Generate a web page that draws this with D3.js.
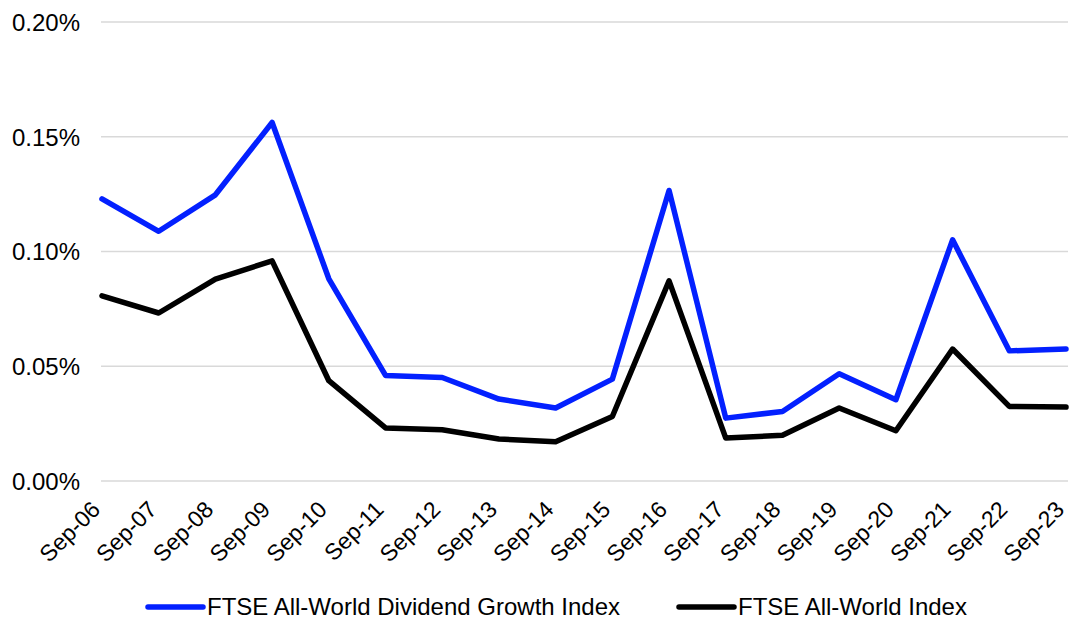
<!DOCTYPE html>
<html>
<head>
<meta charset="utf-8">
<script src="https://cdn.jsdelivr.net/npm/d3@7"></script>
<style>
  html, body { margin: 0; padding: 0; background: #ffffff; }
  svg { display: block; font-family: "Liberation Sans", Arial, sans-serif; }
</style>
</head>
<body>
<svg id="chart" width="1070" height="619"></svg>
<script>
// Dividend yield comparison, annual September observations (values in %)
const categories = ["Sep-06","Sep-07","Sep-08","Sep-09","Sep-10","Sep-11","Sep-12","Sep-13","Sep-14",
  "Sep-15","Sep-16","Sep-17","Sep-18","Sep-19","Sep-20","Sep-21","Sep-22","Sep-23"];
const dividendGrowth = [0.1229,0.1088,0.1247,0.1562,0.0881,0.0460,0.0451,0.0357,0.0318,
  0.0444,0.1266,0.0274,0.0303,0.0467,0.0354,0.1051,0.0567,0.0575];
const allWorld = [0.0807,0.0732,0.0880,0.0959,0.0437,0.0231,0.0223,0.0183,0.0171,
  0.0281,0.0872,0.0187,0.0199,0.0318,0.0219,0.0575,0.0325,0.0322];
const yTicks = [0, 0.05, 0.10, 0.15, 0.20];
const seriesNames = ["FTSE All-World Dividend Growth Index", "FTSE All-World Index"];
const seriesColors = ["#0320ff", "#000000"];

const svg = d3.select("#chart");
const plotLeft = 102, plotRight = 1066, plotTop = 22, plotBottom = 481;
const fontFamily = "'Liberation Sans', Arial, sans-serif";

const x = d3.scalePoint().domain(categories).range([plotLeft, plotRight]);
const y = d3.scaleLinear().domain([0, 0.20]).range([plotBottom, plotTop]);

// Horizontal gridlines
svg.append("g")
  .selectAll("line")
  .data(yTicks)
  .join("line")
  .attr("x1", plotLeft - 1).attr("x2", 1068)
  .attr("y1", d => y(d)).attr("y2", d => y(d))
  .attr("stroke", "#d9d9d9").attr("stroke-width", 1.5);

// Y axis labels
const yAxis = d3.axisLeft(y).tickValues(yTicks).tickSize(0).tickPadding(0)
  .tickFormat(d => d.toFixed(2) + "%");
const yg = svg.append("g").attr("transform", `translate(${plotLeft - 22},0)`).call(yAxis);
yg.select(".domain").remove();
yg.selectAll("text").attr("font-size", 24).attr("fill", "#000")
  .attr("font-family", fontFamily).attr("dy", "0.35em");

// X axis labels, rotated
const xAxis = d3.axisBottom(x).tickSize(0).tickPadding(0);
const xg = svg.append("g").attr("transform", `translate(0,${plotBottom})`).call(xAxis);
xg.select(".domain").remove();
xg.selectAll("text")
  .attr("font-size", 23).attr("fill", "#000")
  .attr("font-family", fontFamily)
  .attr("text-anchor", "end")
  .attr("dy", null)
  .attr("y", 0)
  .attr("transform", "translate(-1,30) rotate(-45)");

// Series lines
const line = d3.line().x((d, i) => x(categories[i])).y(d => y(d));
[dividendGrowth, allWorld].forEach((vals, k) => {
  svg.append("path")
    .datum(vals)
    .attr("d", line)
    .attr("fill", "none")
    .attr("stroke", seriesColors[k])
    .attr("stroke-width", 5.5)
    .attr("stroke-linejoin", "round")
    .attr("stroke-linecap", "round");
});

// Legend
const legendItems = [{x: 148}, {x: 679}];
legendItems.forEach((it, k) => {
  const g = svg.append("g").attr("transform", `translate(${it.x},607)`);
  g.append("line").attr("x1", 0).attr("x2", 55).attr("y1", 0).attr("y2", 0)
    .attr("stroke", seriesColors[k]).attr("stroke-width", 5.5).attr("stroke-linecap", "round");
  g.append("text").attr("x", 59).attr("y", 0).attr("dy", "0.35em")
    .attr("font-size", 24).attr("font-family", fontFamily)
    .attr("fill", "#000").text(seriesNames[k]);
});
</script>
</body>
</html>
